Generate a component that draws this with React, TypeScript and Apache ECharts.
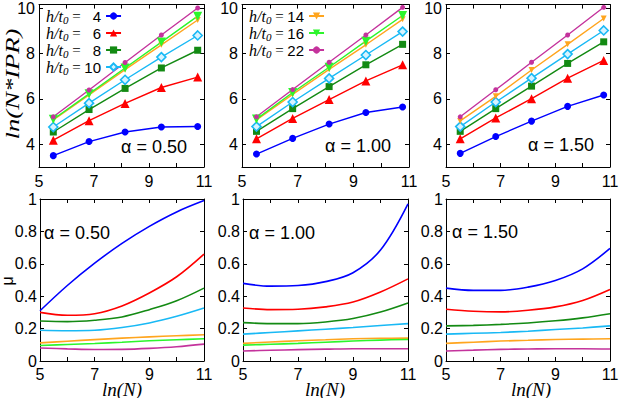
import React, { useEffect, useRef } from "react";
import * as echarts from "echarts";

// ---------- data ----------
const xTop = [5.52, 6.82, 8.13, 9.45, 10.77];
const xBot = [5, 6, 7, 8, 9, 10, 11];
const hValues = ["4", "6", "8", "10", "14", "16", "22"];
const alphaLabels = ["α = 0.50", "α = 1.00", "α = 1.50"];
const xTickLabels = [5, 7, 9, 11];
const yTopTicks = [4, 6, 8, 10];

// top: ln(N*IPR)
const a4 = [3.5, 4.12, 4.54, 4.76, 4.78];
const a6 = [4.18, 5.04, 5.8, 6.5, 6.96];
const a8 = [4.54, 5.53, 6.46, 7.36, 8.14];
const a10 = [4.76, 5.81, 6.84, 7.84, 8.79];
const a14 = [5.07, 6.17, 7.29, 8.38, 9.47];
const a16 = [5.1, 6.22, 7.36, 8.5, 9.64];
const a22 = [5.21, 6.39, 7.6, 8.81, 10.0];

const b4 = [3.57, 4.26, 4.89, 5.4, 5.64];
const b6 = [4.24, 5.14, 5.97, 6.79, 7.5];
const b8 = [4.57, 5.57, 6.54, 7.5, 8.4];
const b10 = [4.78, 5.86, 6.9, 7.93, 8.96];
const b14 = [5.07, 6.2, 7.3, 8.38, 9.5];
const b16 = [5.11, 6.28, 7.39, 8.54, 9.67];
const b22 = [5.21, 6.41, 7.61, 8.81, 10.03];

const c4 = [3.6, 4.34, 5.02, 5.67, 6.17];
const c6 = [4.24, 5.16, 6.01, 6.91, 7.69];
const c8 = [4.57, 5.57, 6.56, 7.56, 8.51];
const c10 = [4.78, 5.86, 6.91, 7.97, 9.01];
const c14 = [5.03, 6.11, 7.27, 8.4, 9.54];
const c22 = [5.21, 6.4, 7.61, 8.81, 10.03];

// bottom: mu
const d4 = [0.31, 0.466, 0.604, 0.726, 0.831, 0.92, 0.99];
const d6 = [0.3, 0.282, 0.292, 0.34, 0.42, 0.52, 0.66];
const d8 = [0.247, 0.243, 0.252, 0.272, 0.317, 0.372, 0.45];
const d10 = [0.19, 0.187, 0.19, 0.207, 0.235, 0.276, 0.327];
const d14 = [0.112, 0.122, 0.132, 0.141, 0.149, 0.156, 0.162];
const d16 = [0.096, 0.102, 0.108, 0.116, 0.125, 0.131, 0.137];
const d22 = [0.08, 0.075, 0.071, 0.072, 0.078, 0.088, 0.104];

const e4 = [0.479, 0.462, 0.466, 0.49, 0.545, 0.685, 0.97];
const e6 = [0.327, 0.317, 0.319, 0.334, 0.364, 0.426, 0.507];
const e8 = [0.237, 0.231, 0.231, 0.241, 0.262, 0.302, 0.358];
const e10 = [0.166, 0.176, 0.186, 0.196, 0.207, 0.219, 0.231];
const e14 = [0.109, 0.117, 0.125, 0.131, 0.137, 0.14, 0.141];
const e16 = [0.098, 0.103, 0.109, 0.116, 0.123, 0.129, 0.133];
const e22 = [0.062, 0.066, 0.07, 0.073, 0.076, 0.076, 0.076];

const f4 = [0.45, 0.436, 0.436, 0.456, 0.497, 0.569, 0.695];
const f6 = [0.319, 0.307, 0.303, 0.313, 0.334, 0.374, 0.442];
const f8 = [0.217, 0.22, 0.226, 0.235, 0.248, 0.266, 0.292];
const f10 = [0.166, 0.171, 0.176, 0.184, 0.194, 0.204, 0.217];
const f14 = [0.109, 0.116, 0.123, 0.128, 0.133, 0.135, 0.137];
const f22 = [0.062, 0.067, 0.072, 0.074, 0.076, 0.076, 0.074];

// ---------- styles ----------
const COLORS: Record<string, string> = {
  "4": "#0000ff",
  "6": "#ff0000",
  "8": "#138a13",
  "10": "#19b9f5",
  "14": "#ffa51e",
  "16": "#2cf52c",
  "22": "#c4339c",
};
const SYMBOLS: Record<string, any> = {
  "4": { symbol: "circle", size: 7, rotate: 0 },
  "6": { symbol: "triangle", size: 9, rotate: 0 },
  "8": { symbol: "rect", size: 7, rotate: 0 },
  "10": { symbol: "diamond", size: 9, rotate: 0 },
  "14": { symbol: "triangle", size: 6, rotate: 180 },
  "16": { symbol: "triangle", size: 9, rotate: 180 },
  "22": { symbol: "circle", size: 5, rotate: 0 },
};

const GRIDS = [
  { left: 39, top: 1, width: 165, height: 166 },
  { left: 242, top: 1, width: 167, height: 166 },
  { left: 446, top: 1, width: 164, height: 166 },
  { left: 40, top: 199, width: 164, height: 162 },
  { left: 243, top: 199, width: 165, height: 162 },
  { left: 446, top: 199, width: 164, height: 162 },
];

const FONT = "Liberation Sans";
const SERIF = "Liberation Serif";

function zip(xs: number[], ys: number[]) {
  return ys.map((y, i) => [xs[i], y]);
}

export default function App() {
  const ref = useRef<HTMLDivElement>(null);
  useEffect(() => {
    if (!ref.current) return;
    const chart = echarts.init(ref.current, null, { renderer: "svg" });

    const xAxes: any[] = [];
    const yAxes: any[] = [];
    GRIDS.forEach((_, gi) => {
      const isTop = gi < 3;
      const tick = { show: true, inside: true, length: 4, lineStyle: { color: "#000", width: 1 } };
      const line = { show: true, onZero: false, lineStyle: { color: "#000", width: 1 } };
      xAxes.push({
        gridIndex: gi, type: "value", min: 5, max: 11, interval: 1, position: "bottom",
        axisLine: line, axisTick: tick, splitLine: { show: false },
        axisLabel: {
          show: true, margin: isTop ? 6 : 5, fontSize: 16, fontFamily: FONT, color: "#000",
          formatter: (v: number) => (xTickLabels.includes(v) ? String(v) : ""),
        },
      });
      xAxes.push({
        gridIndex: gi, type: "value", min: 5, max: 11, interval: 1, position: "top",
        axisLine: line, axisTick: tick, splitLine: { show: false }, axisLabel: { show: false },
      });
      if (isTop) {
        const yt = { ...tick, customValues: yTopTicks };
        yAxes.push({
          gridIndex: gi, type: "value", min: 3, max: 10.15, interval: 1, position: "left",
          axisLine: line, axisTick: yt, splitLine: { show: false },
          axisLabel: {
            show: true, margin: 4, fontSize: 16, fontFamily: FONT, color: "#000",
            customValues: yTopTicks,
            formatter: (v: number) => (yTopTicks.includes(v) ? String(v) : ""),
          },
        });
        yAxes.push({
          gridIndex: gi, type: "value", min: 3, max: 10.15, interval: 1, position: "right",
          axisLine: line, axisTick: yt, splitLine: { show: false }, axisLabel: { show: false },
        });
      } else {
        yAxes.push({
          gridIndex: gi, type: "value", min: 0, max: 1, interval: 0.2, position: "left",
          axisLine: line, axisTick: tick, splitLine: { show: false },
          axisLabel: { show: true, margin: 3, fontSize: 16, fontFamily: FONT, color: "#000" },
        });
        yAxes.push({
          gridIndex: gi, type: "value", min: 0, max: 1, interval: 0.2, position: "right",
          axisLine: line, axisTick: tick, splitLine: { show: false }, axisLabel: { show: false },
        });
      }
    });

    const series: any[] = [];
    const topSets: Record<string, number[]>[] = [
      { "4": a4, "6": a6, "8": a8, "10": a10, "14": a14, "16": a16, "22": a22 },
      { "4": b4, "6": b6, "8": b8, "10": b10, "14": b14, "16": b16, "22": b22 },
      { "4": c4, "6": c6, "8": c8, "10": c10, "14": c14, "22": c22 },
    ];
    const botSets: Record<string, number[]>[] = [
      { "4": d4, "6": d6, "8": d8, "10": d10, "14": d14, "16": d16, "22": d22 },
      { "4": e4, "6": e6, "8": e8, "10": e10, "14": e14, "16": e16, "22": e22 },
      { "4": f4, "6": f6, "8": f8, "10": f10, "14": f14, "22": f22 },
    ];
    topSets.forEach((set, p) => {
      hValues.forEach((h) => {
        if (!set[h]) return;
        const s = SYMBOLS[h];
        const col = COLORS[h];
        series.push({
          type: "line", name: h, xAxisIndex: p * 2, yAxisIndex: p * 2,
          data: zip(xTop, set[h]),
          symbol: s.symbol, symbolSize: s.size, symbolRotate: s.rotate,
          showSymbol: true,
          lineStyle: { color: col, width: 1.4 },
          itemStyle: h === "10"
            ? { color: "#d6f3ff", borderColor: col, borderWidth: 1.6 }
            : { color: col, borderColor: col, borderWidth: 0 },
          emphasis: { disabled: true },
          z: 3,
        });
      });
    });
    botSets.forEach((set, p) => {
      hValues.forEach((h) => {
        if (!set[h]) return;
        series.push({
          type: "line", name: "mu" + h, xAxisIndex: (p + 3) * 2, yAxisIndex: (p + 3) * 2,
          data: zip(xBot, set[h]), smooth: 0.35,
          showSymbol: false, symbol: "none",
          lineStyle: { color: COLORS[h], width: 1.6 },
          emphasis: { disabled: true },
        });
      });
    });

    const rich = {
      a: { fontFamily: SERIF, fontStyle: "italic", fontSize: 16, color: "#000" },
      b: { fontFamily: SERIF, fontStyle: "italic", fontSize: 11, color: "#000", padding: [7, 0, 0, 0] },
      c: { fontFamily: SERIF, fontSize: 15, color: "#000" },
      n: { fontFamily: FONT, fontSize: 15, color: "#000" },
    };
    const legendBase = {
      orient: "vertical", align: "right", itemGap: 0, itemWidth: 15, itemHeight: 9,
      selectedMode: false,
      formatter: (name: string) =>
        `{a|h/t}{b|0}{c| = }{n|${name.length === 1 ? "\u2007" + name : name}}`,
      textStyle: { rich },
    };

    const graphic: any[] = [];
    const topAlpha = [[154, 147], [358, 146], [561, 145]];
    const botAlpha = [[77, 233], [282, 233], [485, 232]];
    topAlpha.forEach((p, i) => graphic.push({
      type: "text", x: p[0], y: p[1],
      style: { text: alphaLabels[i], fontSize: 18, fontFamily: FONT, fill: "#000", align: "center", verticalAlign: "middle" },
    }));
    botAlpha.forEach((p, i) => graphic.push({
      type: "text", x: p[0], y: p[1],
      style: { text: alphaLabels[i], fontSize: 18, fontFamily: FONT, fill: "#000", align: "center", verticalAlign: "middle" },
    }));
    [122, 325, 531].forEach((cx) => graphic.push({
      type: "text", x: cx, y: 389,
      style: { text: "ln(N)", fontSize: 19, fontFamily: SERIF, fontStyle: "italic", fill: "#000", align: "center", verticalAlign: "middle" },
    }));
    graphic.push({
      type: "text", x: 12, y: 84, rotation: Math.PI / 2, scaleX: 1.4,
      style: { text: "ln(N*IPR)", fontSize: 19, fontFamily: SERIF, fontStyle: "italic", fill: "#000", align: "center", verticalAlign: "middle" },
    });
    graphic.push({
      type: "text", x: 7, y: 281, rotation: Math.PI / 2,
      style: { text: "μ", fontSize: 16, fontFamily: FONT, fill: "#000", align: "center", verticalAlign: "middle" },
    });

    chart.setOption({
      animation: false,
      backgroundColor: "#fff",
      grid: GRIDS.map((g) => ({ ...g, containLabel: false })),
      xAxis: xAxes,
      yAxis: yAxes,
      legend: [
        { ...legendBase, left: 41, top: 3, data: ["4", "6", "8", "10"] },
        { ...legendBase, left: 244, top: 3, data: ["14", "16", "22"] },
      ],
      series,
      graphic,
    });
    return () => chart.dispose();
  }, []);
  return (
    <div
      ref={ref}
      style={{ position: "fixed", left: 0, top: 0, width: 623, height: 398, background: "#fff" }}
    />
  );
}
